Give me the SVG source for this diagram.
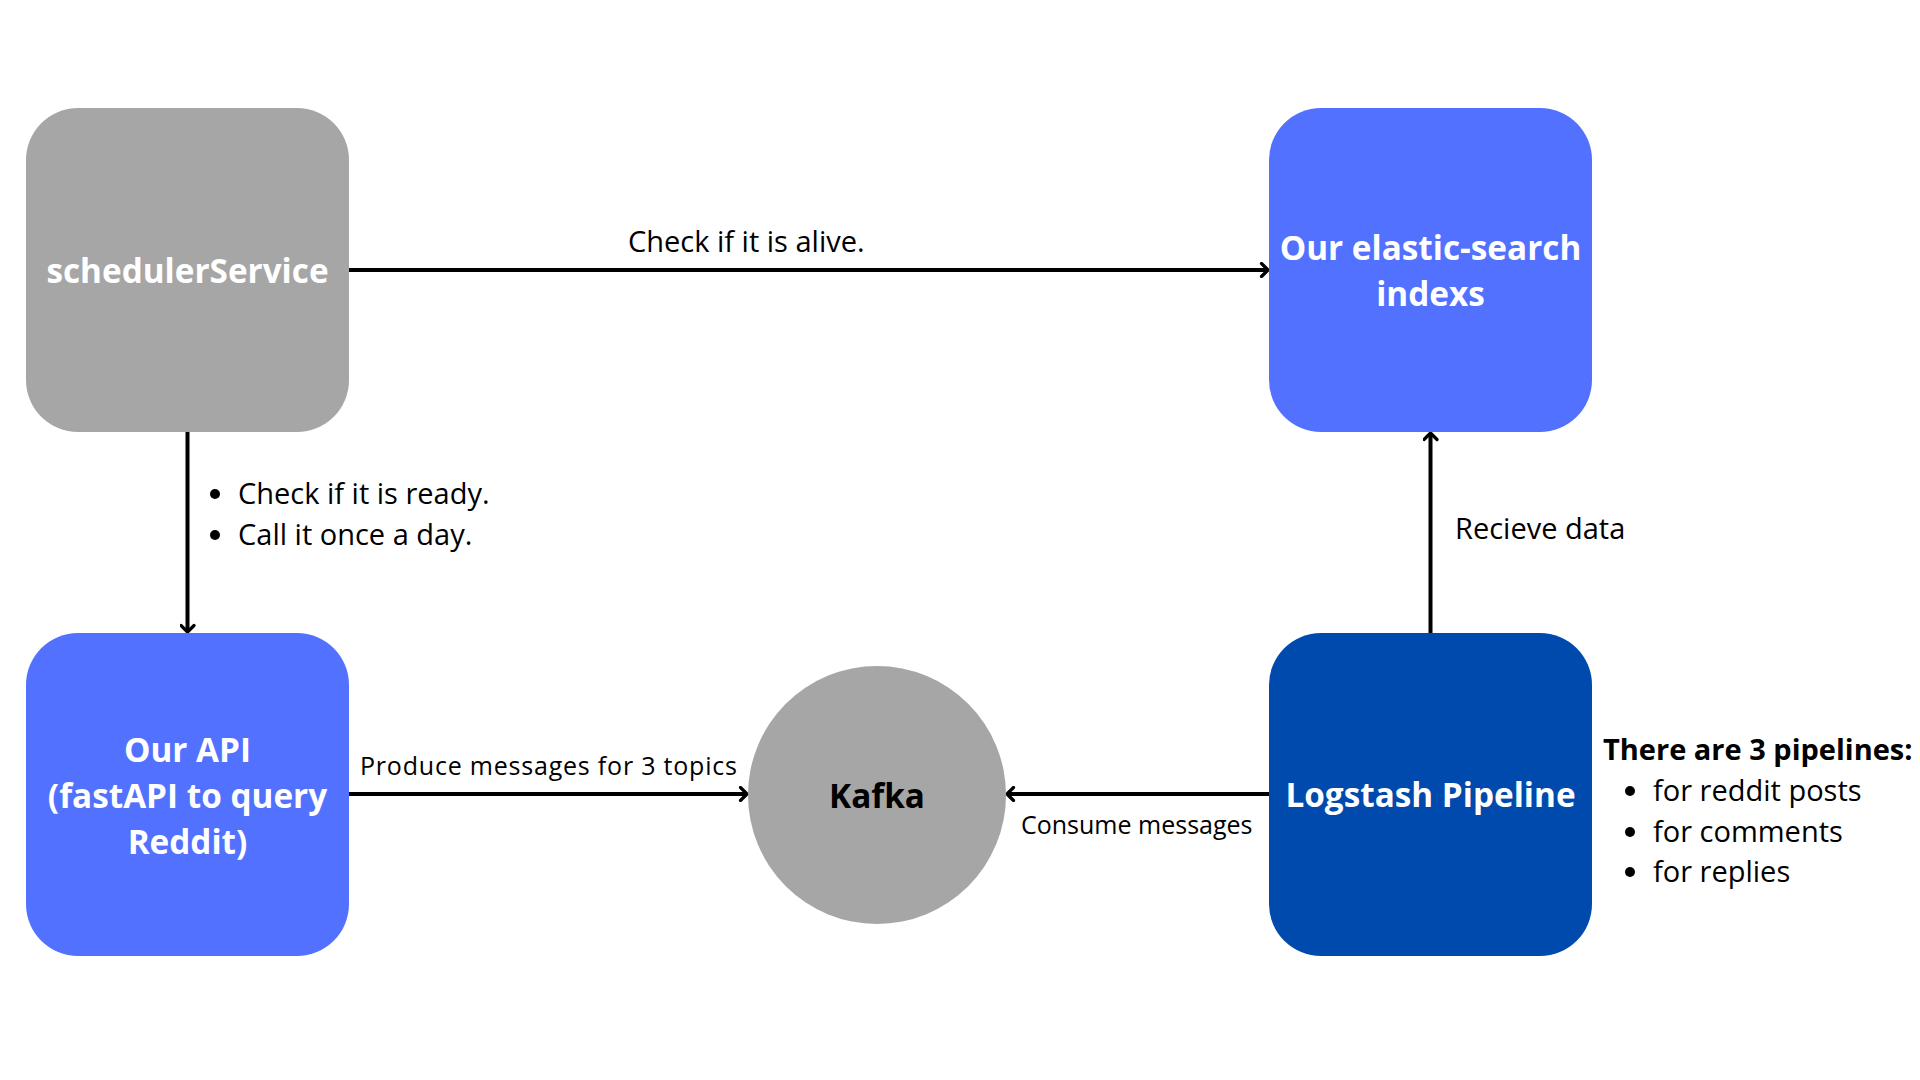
<svg xmlns="http://www.w3.org/2000/svg" width="1920" height="1080" viewBox="0 0 1920 1080">
<defs>
<style>
.node-label{font-family:"Open Sans","Noto Sans",sans-serif;font-weight:700;font-size:33.3px;fill:#ffffff;text-anchor:middle}
.dark-label{font-family:"Open Sans","Noto Sans",sans-serif;font-weight:700;font-size:33.3px;fill:#000000;text-anchor:middle}
.lbl{font-family:"Open Sans","Noto Sans",sans-serif;font-size:29px;fill:#000000}
.lbl-s{font-family:"Open Sans","Noto Sans",sans-serif;font-size:25px;fill:#000000}
.lbl-b{font-family:"Open Sans","Noto Sans",sans-serif;font-size:29px;font-weight:700;fill:#000000}
.conn{stroke:#000000;stroke-width:4;fill:none;marker-end:url(#arrow)}
.grey{fill:#a6a6a6}
.blue{fill:#5271ff}
.dblue{fill:#004aad}
</style>
<marker id="arrow" viewBox="0 0 16 16" refX="14" refY="8" markerWidth="16" markerHeight="16" markerUnits="userSpaceOnUse" orient="auto">
<path d="M7.5,1.5 L14,8 L7.5,14.5" stroke="#000000" stroke-width="3.2" fill="none" stroke-linecap="round" stroke-linejoin="round"/>
</marker>
</defs>
<rect width="1920" height="1080" fill="#ffffff"/>
<g id="connectors">
<line class="conn" x1="349" y1="270" x2="1268" y2="270"/>
<line class="conn" x1="187.5" y1="432" x2="187.5" y2="632"/>
<line class="conn" x1="349" y1="794" x2="747" y2="794"/>
<line class="conn" x1="1269" y1="794" x2="1007" y2="794"/>
<line class="conn" x1="1430.5" y1="633" x2="1430.5" y2="433"/>
</g>
<g id="edge-labels">
<text class="lbl" x="628" y="252">Check if it is alive.</text>
<circle cx="215" cy="494" r="5"/>
<text class="lbl" x="238" y="504">Check if it is ready.</text>
<circle cx="215" cy="535" r="5"/>
<text class="lbl" x="238" y="545">Call it once a day.</text>
<text class="lbl-s" x="360" y="775" textLength="377">Produce messages for 3 topics</text>
<text class="lbl-s" x="1021" y="834">Consume messages</text>
<text class="lbl" x="1455" y="539">Recieve data</text>
</g>
<g id="schedulerService">
<rect class="grey" x="26" y="108" width="323" height="324" rx="52" ry="52"/>
<text class="node-label" x="187.5" y="283">schedulerService</text>
</g>
<g id="elasticsearch">
<rect class="blue" x="1269" y="108" width="323" height="324" rx="52" ry="52"/>
<text class="node-label" x="1430.5" y="260">Our elastic-search</text>
<text class="node-label" x="1430.5" y="306">indexs</text>
</g>
<g id="ourApi">
<rect class="blue" x="26" y="633" width="323" height="323" rx="52" ry="52"/>
<text class="node-label" x="187.5" y="762">Our API</text>
<text class="node-label" x="187.5" y="808">(fastAPI to query</text>
<text class="node-label" x="187.5" y="854">Reddit)</text>
</g>
<g id="kafka">
<circle class="grey" cx="877" cy="795" r="129"/>
<text class="dark-label" x="877" y="808">Kafka</text>
</g>
<g id="logstash">
<rect class="dblue" x="1269" y="633" width="323" height="323" rx="52" ry="52"/>
<text class="node-label" x="1430.5" y="807">Logstash Pipeline</text>
</g>
<g id="pipelines-note">
<text class="lbl-b" x="1603" y="760">There are 3 pipelines:</text>
<circle cx="1630" cy="791" r="5"/>
<text class="lbl" x="1653" y="801">for reddit posts</text>
<circle cx="1630" cy="832" r="5"/>
<text class="lbl" x="1653" y="842">for comments</text>
<circle cx="1630" cy="872" r="5"/>
<text class="lbl" x="1653" y="882">for replies</text>
</g>
</svg>
